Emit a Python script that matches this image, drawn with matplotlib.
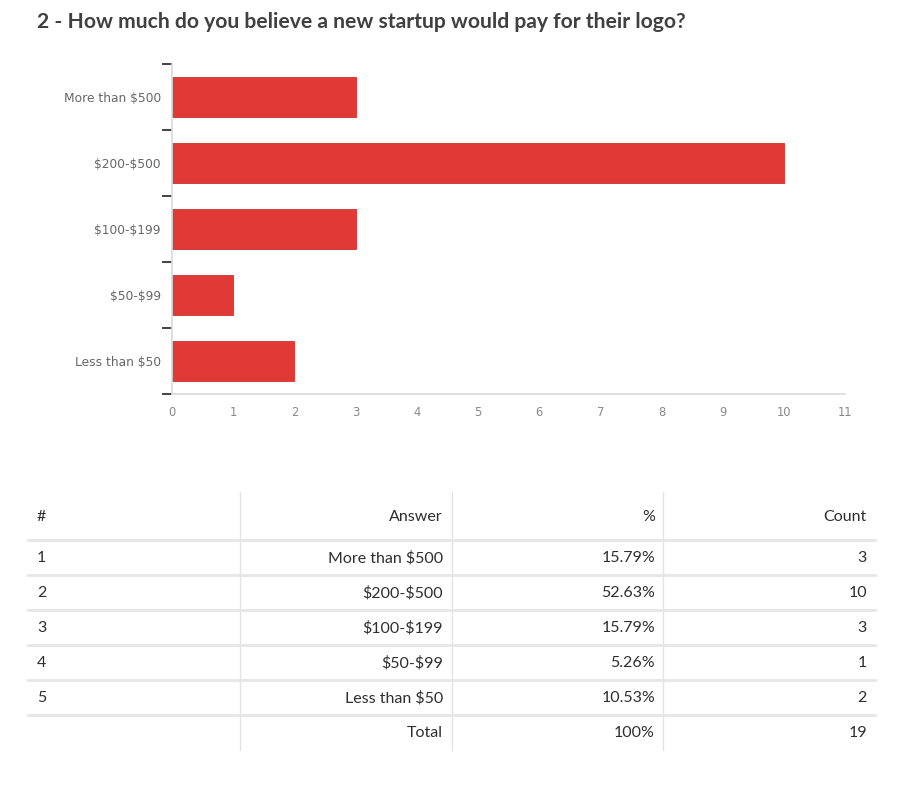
import matplotlib
matplotlib.use("Agg")
import matplotlib.pyplot as plt

plt.rcParams['text.parse_math'] = False

# survey data
answers = ['More than $500', '$200-$500', '$100-$199', '$50-$99', 'Less than $50']
counts = [3, 10, 3, 1, 2]
percents = ['15.79%', '52.63%', '15.79%', '5.26%', '10.53%']
total_label = 'Total'
total_pct = '100%'
total_count = 19
title = '2 - How much do you believe a new startup would pay for their logo?'

W, H = 907, 788
fig = plt.figure(figsize=(W / 100, H / 100), dpi=100)

bar_color = '#e03936'
grid_gray = '#d9d9d9'
label_gray = '#666666'
text_dark = '#2e2e2e'

fig.text(37 / W, 1 - 22 / H, title, fontsize=15.2, fontweight='bold', family='Lato',
         color='#404040', ha='left', va='center')

# bar chart
ax = fig.add_axes([172 / W, 1 - 394 / H, (845 - 172) / W, (394 - 64) / H])
ypos = list(range(len(answers)))
ax.barh(ypos, counts, height=0.6, color=bar_color, edgecolor='#c93330', linewidth=0.6)
ax.set_ylim(len(answers) - 0.5, -0.5)
ax.set_xlim(0, 11)

ax.set_yticks(ypos)
ax.set_yticklabels(answers, fontsize=8.8, color=label_gray, family='DejaVu Sans')
ax.tick_params(axis='y', which='major', length=0, pad=8)
ax.set_yticks([y - 0.5 for y in range(len(answers) + 1)], minor=True)
ax.tick_params(axis='y', which='minor', length=7, width=1.2, color='#222222')

ax.set_xticks(range(12))
ax.set_xticklabels([str(v) for v in range(12)], fontsize=8.3, color='#888888')
ax.tick_params(axis='x', which='major', length=0, pad=9)
ax.set_xticks(range(1, 11), minor=True)
ax.tick_params(axis='x', which='minor', length=7, width=1.2, color='#222222', direction='out')

for s in ['top', 'right']:
    ax.spines[s].set_visible(False)
ax.spines['left'].set_color(grid_gray)
ax.spines['bottom'].set_color(grid_gray)
ax.spines['left'].set_linewidth(1.2)
ax.spines['bottom'].set_linewidth(1.2)

# table drawn in pixel coordinates
tax = fig.add_axes([0, 0, 1, 1])
tax.set_xlim(0, W)
tax.set_ylim(H, 0)
tax.axis('off')

row_h = 35
header_y = 517
first_row_y = 558
line_gray = '#e6e6e6'
vline_gray = '#e3e3e3'

for xv in [240, 452, 663]:
    tax.plot([xv, xv], [492, 750], color=vline_gray, lw=1)

n_rows = len(answers) + 1
for i in range(n_rows):
    yl = first_row_y - row_h / 2 - 1 + i * row_h
    tax.plot([28, 875], [yl, yl], color=line_gray, lw=2)

fs = 11.5
fam = 'Lato'
tax.text(37, header_y, '#', fontsize=fs, family=fam, color=text_dark, ha='left', va='center')
tax.text(443, header_y, 'Answer', fontsize=fs, family=fam, color=text_dark, ha='right', va='center')
tax.text(655, header_y, '%', fontsize=fs, family=fam, color=text_dark, ha='right', va='center')
tax.text(867, header_y, 'Count', fontsize=fs, family=fam, color=text_dark, ha='right', va='center')

for i, (a, p, c) in enumerate(zip(answers, percents, counts)):
    yy = first_row_y + i * row_h
    tax.text(37, yy, str(i + 1), fontsize=fs, family=fam, color=text_dark, ha='left', va='center')
    tax.text(443, yy, a, fontsize=fs, family=fam, color=text_dark, ha='right', va='center')
    tax.text(655, yy, p, fontsize=fs, family=fam, color=text_dark, ha='right', va='center')
    tax.text(867, yy, str(c), fontsize=fs, family=fam, color=text_dark, ha='right', va='center')

yy = first_row_y + len(answers) * row_h
tax.text(443, yy, total_label, fontsize=fs, family=fam, color=text_dark, ha='right', va='center')
tax.text(655, yy, total_pct, fontsize=fs, family=fam, color=text_dark, ha='right', va='center')
tax.text(867, yy, str(total_count), fontsize=fs, family=fam, color=text_dark, ha='right', va='center')

fig.savefig('out.png', dpi=100, facecolor='white')
